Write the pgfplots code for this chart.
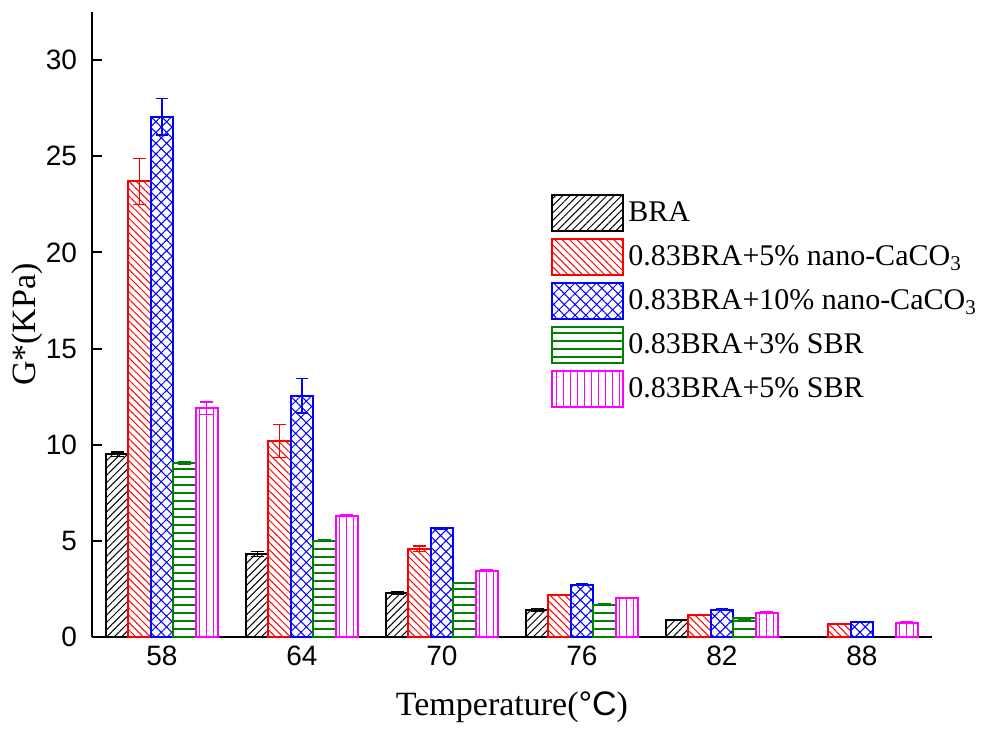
\documentclass[border=0pt]{standalone}
\usepackage{pgfplots}
\pgfplotsset{compat=1.18}
\usepackage{fontspec}
\setmainfont{Liberation Serif}
\setsansfont{Liberation Sans}
\usetikzlibrary{patterns,patterns.meta}
\definecolor{cRed}{RGB}{255,0,0}
\definecolor{cBlue}{RGB}{0,0,255}
\definecolor{cGreen}{RGB}{0,128,0}
\definecolor{cMag}{RGB}{255,0,255}

\pgfdeclarepatternformonly{hlines4}{\pgfqpoint{-1pt}{-1pt}}{\pgfqpoint{200pt}{4pt}}{\pgfqpoint{200pt}{4pt}}%
{\pgfsetlinewidth{0.6pt}\pgfpathmoveto{\pgfqpoint{-1pt}{2pt}}\pgfpathlineto{\pgfqpoint{201pt}{2pt}}\pgfusepath{stroke}}
\pgfdeclarepatternformonly{vlines3}{\pgfqpoint{-1pt}{-1pt}}{\pgfqpoint{3.5pt}{200pt}}{\pgfqpoint{3.5pt}{200pt}}%
{\pgfsetlinewidth{0.6pt}\pgfpathmoveto{\pgfqpoint{1.75pt}{-1pt}}\pgfpathlineto{\pgfqpoint{1.75pt}{201pt}}\pgfusepath{stroke}}

\pgfplotstableread{
x y e
0 9.50 0.12
1 4.32 0.12
2 2.29 0.05
3 1.41 0.06
4 0.88 0.04
}\bra
\pgfplotstableread{
x y e
0 23.70 1.20
1 10.20 0.85
2 4.58 0.15
3 2.19 0.04
4 1.14 0.03
5 0.66 0.03
}\redd
\pgfplotstableread{
x y e
0 27.05 0.95
1 12.55 0.90
2 5.66 0.05
3 2.71 0.05
4 1.42 0.04
5 0.78 0.04
}\blued
\pgfplotstableread{
x y e
0 9.05 0.08
1 5.00 0.05
2 2.81 0.04
3 1.67 0.05
4 0.97 0.03
}\greend
\pgfplotstableread{
x y e
0 11.90 0.32
1 6.30 0.04
2 3.44 0.04
3 2.03 0.03
4 1.27 0.03
5 0.75 0.03
}\magd

\begin{document}
\begin{tikzpicture}
\begin{axis}[
  scale only axis,
  width=420pt, height=312.5pt,
  xmin=-0.5, xmax=5.5,
  ymin=0, ymax=32.5,
  axis x line*=bottom, axis y line*=left,
  axis line style={line width=1pt},
  ybar=0pt, bar width=0.16,
  xtick={0,1,2,3,4,5},
  xticklabels={58,64,70,76,82,88},
  ytick={0,5,10,15,20,25,30},
  tick align=inside,
  major tick length=5pt,
  xtick style={draw=none},
  ytick style={line width=1pt, black},
  tick label style={font=\sffamily\fontsize{14}{16}\selectfont},
  /pgf/number format/assume math mode=true,
  yticklabel style={xshift=-4pt},
  xticklabel style={yshift=-1pt},
  xlabel={Temperature({\sffamily °C})},
  ylabel={G*(KPa)},
  xlabel style={font=\fontsize{17}{20}\selectfont, at={(axis description cs:0.5,-0.112)}, anchor=center},
  ylabel style={font=\fontsize{17}{20}\selectfont, at={(axis description cs:-0.077,0.5)}, anchor=center},
  legend cell align=left,
  legend style={draw=none, fill=none, inner sep=0pt,
    at={(0.5464,0.709)}, anchor=north west,
    font=\fontsize{15}{18}\selectfont,
    row sep=3pt,
    /tikz/every even column/.append style={column sep=6pt}},
  legend image code/.code={\draw[#1,line width=1pt] (0pt,-9pt) rectangle (35.5pt,9pt);},
  error bars/y dir=both, error bars/y explicit,
  error bars/error mark options={rotate=90, mark size=3.2pt, line width=0.6pt},
]
\addplot[draw=black, line width=1pt, pattern={Lines[angle=45,distance=2.6pt,line width=0.5pt]}, pattern color=black,
  error bars/error bar style={black, line width=0.6pt}]
  table[x=x,y=y,y error=e]{\bra};
\addplot[draw=cRed, line width=1pt, pattern={Lines[angle=-45,distance=2.6pt,line width=0.5pt]}, pattern color=cRed,
  error bars/error bar style={cRed, line width=0.6pt}]
  table[x=x,y=y,y error=e]{\redd};
\addplot[draw=cBlue, line width=1pt, pattern={Hatch[angle=45,distance=3.8pt,line width=0.5pt]}, pattern color=cBlue,
  error bars/error bar style={cBlue, line width=0.6pt}]
  table[x=x,y=y,y error=e]{\blued};
\addplot[draw=cGreen, line width=1pt, pattern=hlines4, pattern color=cGreen,
  error bars/error bar style={cGreen, line width=0.6pt}]
  table[x=x,y=y,y error=e]{\greend};
\addplot[draw=cMag, line width=1pt, pattern=vlines3, pattern color=cMag,
  error bars/error bar style={cMag, line width=0.6pt}]
  table[x=x,y=y,y error=e]{\magd};
\legend{BRA,
  0.83BRA+5\% nano-CaCO\textsubscript{3},
  0.83BRA+10\% nano-CaCO\textsubscript{3},
  0.83BRA+3\% SBR,
  0.83BRA+5\% SBR}
\coordinate (ll) at (rel axis cs:0,0);
\coordinate (ur) at (rel axis cs:1,1);
\end{axis}
\pgfresetboundingbox
\path ([shift={(-46pt,-46pt)}]ll) rectangle ([shift={(38pt,6pt)}]ur);
\end{tikzpicture}
\end{document}
